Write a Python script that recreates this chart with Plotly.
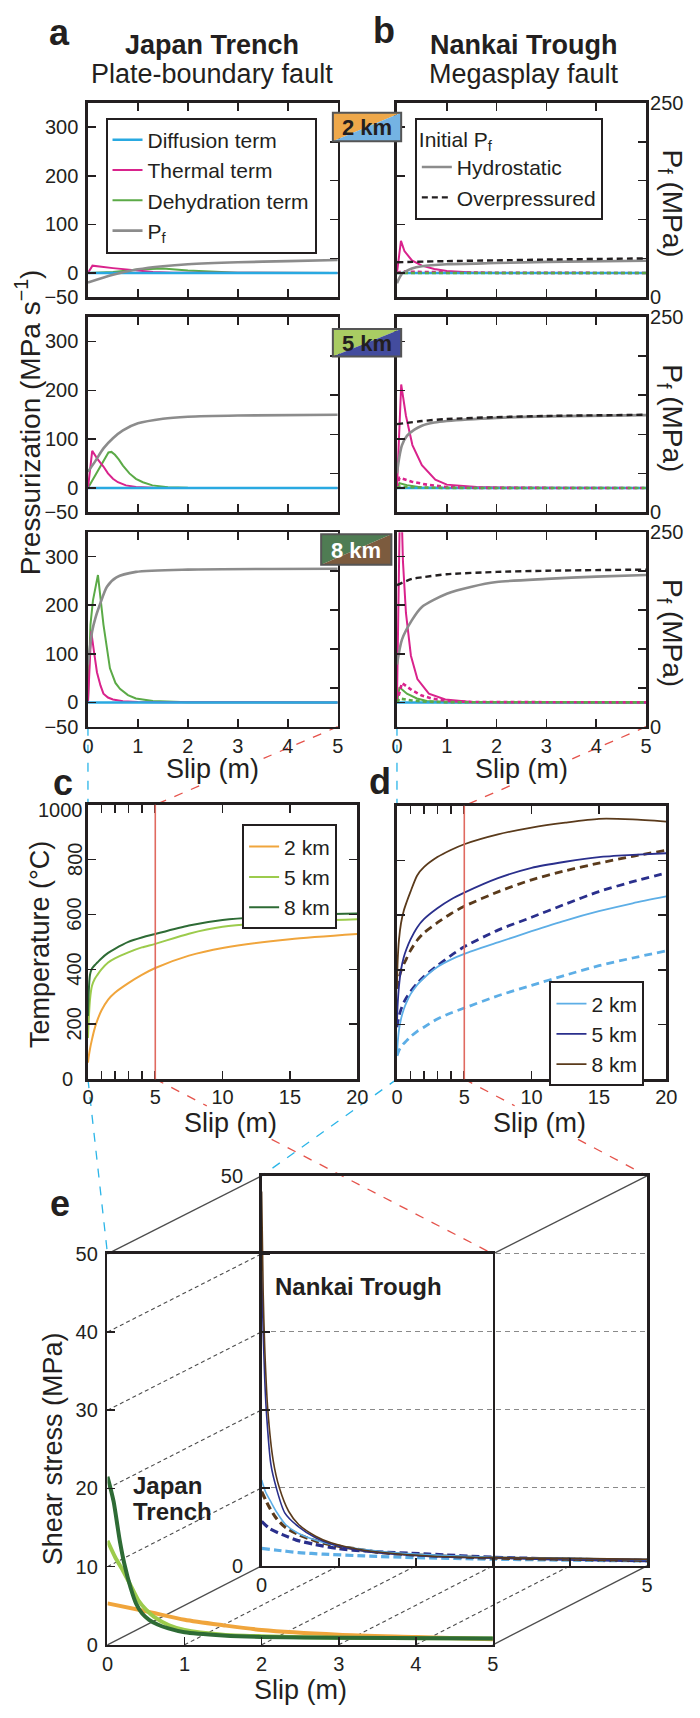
import plotly.graph_objects as go

W, H = 700, 1718
INK = "#231F20"
FONT = "Liberation Sans, Arial, Helvetica, sans-serif"

# ======================= DATA =======================
# ---- Panel a: Japan Trench, pressurization terms (MPa s^-1) vs slip (m); Pf in MPa (right axis)
ZERO_s = [0, 5]
ZERO_v = [0, 0]

JT2_thermal_s = [0, 0.09, 0.5, 1.0, 1.3, 1.7, 5]
JT2_thermal = [0, 15, 10, 5, 2, 0.5, 0]
JT2_dehyd_s = [0, 0.5, 1.0, 1.5, 2.0, 2.5, 3, 5]
JT2_dehyd = [0, 2, 7, 9, 5, 2, 0.5, 0]
JT2_pf_s = [0, 0.5, 1, 1.5, 2, 3, 4, 5]
JT2_pf = [19, 29, 36, 40, 42.5, 45, 46.5, 48]

JT5_thermal_s = [0, 0.085, 0.2, 0.31, 0.4, 0.5, 0.6, 0.76, 0.96, 1.3, 5]
JT5_thermal = [0, 76, 58, 44, 30, 19, 12, 5.5, 2, 0.5, 0]
JT5_dehyd_s = [0, 0.1, 0.2, 0.31, 0.41, 0.47, 0.54, 0.62, 0.7, 0.83, 0.96, 1.1, 1.29, 1.6, 2, 5]
JT5_dehyd = [0, 18, 36, 53, 73, 74, 68, 58, 46, 30, 19, 12, 5.5, 1.5, 0.5, 0]
JT5_pf_s = [0, 0.15, 0.31, 0.5, 0.7, 1.0, 1.5, 2, 3, 5]
JT5_pf = [52, 66, 82, 95, 105, 114, 120, 122.5, 124, 125]

JT8_thermal_s = [0, 0.065, 0.12, 0.18, 0.25, 0.31, 0.4, 0.5, 0.7, 1, 1.5, 5]
JT8_thermal = [0, 146, 105, 62, 35, 18, 10, 6, 2.5, 1, 0.2, 0]
JT8_dehyd_s = [0, 0.05, 0.1, 0.2, 0.31, 0.44, 0.55, 0.64, 0.8, 0.96, 1.3, 2, 5]
JT8_dehyd = [0, 160, 210, 262, 160, 70, 40, 28, 15, 8, 3, 0.5, 0]
JT8_pf_s = [0, 0.085, 0.15, 0.25, 0.38, 0.57, 0.96, 2, 5]
JT8_pf = [80, 123, 140, 159, 180, 192, 199, 202, 203]

# ---- Panel b: Nankai Trough (solid = hydrostatic initial Pf, dashed = overpressured)
NT2_hydro_s = [0, 0.1, 0.3, 0.5, 1, 2, 3, 5]
NT2_hydro = [18, 30, 37, 40, 42.5, 44, 45.5, 47]
NT2_over_s = [0, 1, 2, 3, 5]
NT2_over = [45, 46.5, 47.5, 48.5, 50]
NT2_thermal_s = [0, 0.08, 0.15, 0.3, 0.5, 0.75, 1.0, 1.5, 2, 5]
NT2_thermal = [0, 66, 45, 26, 15, 8, 4, 1, 0, 0]
NT2_thermal_op_s = [0, 0.1, 0.5, 1, 2, 5]
NT2_thermal_op = [0, 3, 2, 1, 0.3, 0]

NT5_hydro_s = [0, 0.05, 0.1, 0.2, 0.35, 0.5, 0.75, 1, 2, 3, 5]
NT5_hydro = [50, 72, 86, 98, 106, 111, 115, 117, 121, 123, 124.5]
NT5_over_s = [0, 0.5, 1, 2, 3, 5]
NT5_over = [113, 117, 119.5, 122, 123.5, 125]
NT5_thermal_s = [0, 0.085, 0.18, 0.31, 0.5, 0.77, 1.0, 1.6, 2.5, 5]
NT5_thermal = [0, 212, 148, 88, 47, 17, 7, 2, 0.5, 0]
NT5_thermal_op_s = [0, 0.05, 0.3, 0.6, 1.0, 1.5, 5]
NT5_thermal_op = [0, 21, 13, 7, 2, 0.5, 0]
NT5_dehyd_s = [0, 0.05, 0.2, 0.5, 1, 5]
NT5_dehyd = [0, 10, 6, 1, 0, 0]
NT5_dehyd_op_s = [0, 0.05, 0.5, 1, 5]
NT5_dehyd_op = [0, 3, 1, 0.3, 0]

NT8_hydro_s = [0, 0.1, 0.3, 0.5, 1, 1.5, 2, 3, 4, 5]
NT8_hydro = [80, 112, 137, 154, 171, 180, 186, 190, 193, 195]
NT8_over_s = [0, 0.3, 0.5, 1, 2, 3, 5]
NT8_over = [182, 190, 192, 196, 199, 200.5, 202]
NT8_thermal_s = [0, 0.07, 0.12, 0.18, 0.28, 0.41, 0.64, 0.97, 1.5, 2, 5]
NT8_thermal = [0, 480, 290, 184, 96, 48, 18, 6, 1, 0, 0]
NT8_thermal_op_s = [0, 0.1, 0.3, 0.5, 0.7, 1.0, 1.5, 5]
NT8_thermal_op = [0, 40, 25, 14, 8, 3, 0.8, 0]
NT8_dehyd_s = [0, 0.05, 0.2, 0.4, 0.6, 1, 5]
NT8_dehyd = [0, 31, 18, 8, 3, 0.5, 0]
NT8_dehyd_op_s = [0, 0.05, 0.3, 0.6, 1, 5]
NT8_dehyd_op = [0, 8, 4, 1.5, 0.5, 0]

# ---- Panel c: Japan Trench temperature (deg C) vs slip (m)
C_slip = [0, 0.05, 0.15, 0.3, 0.5, 0.7, 1, 1.5, 2, 3, 4, 5, 7.5, 10, 15, 20]
C_2km = [60, 80, 110, 145, 185, 215, 250, 290, 315, 350, 380, 405, 450, 478, 510, 529]
C_5km = [150, 210, 290, 340, 365, 380, 400, 425, 440, 462, 480, 493, 530, 555, 574, 583]
C_8km = [230, 310, 380, 403, 415, 425, 440, 460, 475, 500, 516, 529, 560, 580, 597, 604]

# ---- Panel d: Nankai Trough temperature (solid hydrostatic, dashed overpressured)
D_slip = [0, 0.05, 0.15, 0.3, 0.5, 0.7, 1, 1.5, 2, 3, 4, 5, 7.5, 10, 12.5, 15, 17.5, 20]
D_2km = [90, 130, 180, 220, 255, 280, 310, 345, 370, 410, 437, 458, 500, 541, 580, 614, 643, 668]
D_5km = [200, 270, 340, 400, 445, 475, 510, 555, 585, 625, 657, 682, 735, 773, 795, 812, 820, 826]
D_8km = [340, 430, 510, 570, 615, 645, 685, 745, 775, 812, 838, 859, 895, 920, 938, 952, 950, 942]
D_2km_op = [85, 92, 105, 118, 130, 140, 155, 175, 190, 220, 242, 260, 305, 343, 380, 415, 443, 469]
D_5km_op = [190, 205, 230, 255, 280, 298, 320, 350, 375, 415, 452, 484, 545, 592, 640, 686, 722, 754]
D_8km_op = [330, 345, 370, 395, 420, 440, 470, 508, 535, 572, 605, 632, 685, 729, 762, 790, 815, 837]

# ---- Panel e: shear stress (MPa) vs slip (m)
E_JT2_s = [0, 0.5, 1, 1.5, 2, 3, 4, 5]
E_JT2 = [5.3, 4.3, 3.2, 2.5, 1.9, 1.3, 1.0, 0.7]
E_JT5_s = [0, 0.1, 0.2, 0.3, 0.4, 0.5, 0.6, 0.8, 1.0, 1.5, 2, 3, 5]
E_JT5 = [13.3, 11.2, 9.5, 7.6, 5.7, 4.5, 3.6, 2.5, 1.9, 1.3, 1.1, 0.9, 0.8]
E_JT8_s = [0, 0.04, 0.08, 0.16, 0.22, 0.3, 0.37, 0.45, 0.54, 0.65, 0.79, 1.0, 1.5, 2, 3, 5]
E_JT8 = [21.5, 20, 18.3, 13.3, 10.3, 7.3, 5.3, 4.0, 3.2, 2.6, 2.1, 1.6, 1.2, 1.0, 0.9, 0.8]

E_NT8_s = [0, 0.02, 0.04, 0.08, 0.15, 0.23, 0.35, 0.48, 0.7, 0.9, 1.33, 2.17, 3, 4, 5]
E_NT8 = [48, 35, 28, 20, 13.5, 10, 7, 5.3, 3.8, 2.95, 2.0, 1.27, 1.05, 0.95, 0.85]
E_NT5_s = [0, 0.02, 0.04, 0.06, 0.12, 0.19, 0.3, 0.48, 0.7, 0.9, 1.33, 2.17, 3, 4, 5]
E_NT5 = [38, 30, 24, 20, 13, 10, 6.8, 5.0, 3.6, 2.8, 1.9, 1.2, 1.0, 0.9, 0.8]
E_NT2_s = [0, 0.05, 0.12, 0.2, 0.31, 0.45, 0.61, 0.8, 1.03, 1.5, 2, 3, 4, 5]
E_NT2 = [11, 9.5, 8.2, 6.8, 5.3, 4.3, 3.6, 3.0, 2.5, 1.9, 1.5, 1.1, 0.95, 0.8]
E_NT8op_s = [0, 0.1, 0.19, 0.3, 0.48, 0.7, 0.9, 1.2, 1.54, 2, 3, 4, 5]
E_NT8op = [9.5, 7.5, 6.1, 5.0, 4.0, 3.2, 2.7, 2.2, 1.7, 1.4, 1.0, 0.85, 0.7]
E_NT5op_s = [0, 0.1, 0.27, 0.45, 0.69, 1.0, 1.33, 2.17, 3, 4, 5]
E_NT5op = [5.7, 4.8, 4.0, 3.3, 2.75, 2.2, 1.9, 1.5, 1.1, 0.85, 0.65]
E_NT2op_s = [0, 0.2, 0.48, 0.8, 1.33, 2, 3, 4, 5]
E_NT2op = [2.24, 2.0, 1.7, 1.5, 1.27, 1.05, 0.85, 0.72, 0.63]

# ticks
PR_TICKS = [-50, 0, 100, 200, 300]
PR_TICKTEXT = ["\u221250", "0", "100", "200", "300"]
PF_TICKS = [0, 250]
PF_MINOR = [50, 100, 150, 200]
SLIP_TICKS = [0, 1, 2, 3, 4, 5]
SLIP_END_TICKS = [0, 5]
SLIP_MINOR = [1, 2, 3, 4]
T_SLIP_TICKS = [0, 5, 10, 15, 20]
T_SLIP_MINOR = [1, 2, 3, 4]
T_TICKS = [0, 200, 400, 600, 800, 1000]
TAU_TICKS = [0, 10, 20, 30, 40, 50]
TAU_END_TICKS = [0, 50]
TAU_MINOR = [10, 20, 30, 40]
DEPTHS = ["2 km", "5 km", "8 km"]

# ======================= STYLE / LAYOUT GEOMETRY =======================
C_DIFF, C_THERM, C_DEHY, C_PF = "#29A9E1", "#D9238C", "#5BAA47", "#8C8C8C"
JT_COL = ["#F0A53C", "#9CCB4C", "#2E6B35"]
NT_COL = ["#5DAEE6", "#2A2F8C", "#5A3A1B"]
BOX_JT = ["#EEA84A", "#A9CC63", "#4F7C53"]
BOX_NT = ["#74B3E3", "#434C9E", "#7C5B3E"]
CYAN_L, RED_L = "#2BB5E8", "#E5534B"

ROW_Y = [(93, 290), (310, 508), (528, 725)]
COL_X = [(84, 340), (400.7, 656)]
C_BOX = (84, 360, 804, 1082)
D_BOX = (400.7, 676.7, 805, 1082)
F_BOX = (104, 499, 1259, 1655)   # front face (Japan Trench)
B_BOX = (262, 657, 1180, 1575)   # back face (Nankai Trough)


def px(x):
    return x / W


def py(y):
    return 1 - y / H


def xdom(a, b):
    return [a / W, b / W]


def ydom(a, b):
    return [1 - b / H, 1 - a / H]


def xid(k):
    return "x" if k == 1 else f"x{k}"


def yid(n):
    return "y" if n == 1 else f"y{n}"


def xkey(k):
    return "xaxis" if k == 1 else f"xaxis{k}"


def ykey(n):
    return "yaxis" if n == 1 else f"yaxis{n}"


fig = go.Figure()


def line(xs, ys, xa, ya, color, width, dash="solid", name=None, legend=None, rank=None, smooth=False):
    kw = dict(x=xs, y=ys, mode="lines", xaxis=xa, yaxis=ya,
              line=dict(color=color, width=width, dash=dash),
              hoverinfo="skip", showlegend=legend is not None, name=name or "")
    if smooth:
        kw["line"]["shape"] = "spline"
        kw["line"]["smoothing"] = 0.7
    if legend is not None:
        kw["legend"] = legend
        kw["legendrank"] = rank
    fig.add_trace(go.Scatter(**kw))


JT_ROWS = [
    (JT2_thermal_s, JT2_thermal, JT2_dehyd_s, JT2_dehyd, JT2_pf_s, JT2_pf),
    (JT5_thermal_s, JT5_thermal, JT5_dehyd_s, JT5_dehyd, JT5_pf_s, JT5_pf),
    (JT8_thermal_s, JT8_thermal, JT8_dehyd_s, JT8_dehyd, JT8_pf_s, JT8_pf),
]
NT_ROWS = [
    dict(h=(NT2_hydro_s, NT2_hydro), o=(NT2_over_s, NT2_over), th=(NT2_thermal_s, NT2_thermal),
         tho=(NT2_thermal_op_s, NT2_thermal_op), de=(ZERO_s, ZERO_v), deo=(ZERO_s, ZERO_v)),
    dict(h=(NT5_hydro_s, NT5_hydro), o=(NT5_over_s, NT5_over), th=(NT5_thermal_s, NT5_thermal),
         tho=(NT5_thermal_op_s, NT5_thermal_op), de=(NT5_dehyd_s, NT5_dehyd), deo=(NT5_dehyd_op_s, NT5_dehyd_op)),
    dict(h=(NT8_hydro_s, NT8_hydro), o=(NT8_over_s, NT8_over), th=(NT8_thermal_s, NT8_thermal),
         tho=(NT8_thermal_op_s, NT8_thermal_op), de=(NT8_dehyd_s, NT8_dehyd), deo=(NT8_dehyd_op_s, NT8_dehyd_op)),
]

for r in range(3):
    # Japan Trench column
    k = 2 * r + 1
    xa, yl, yr = xid(k), yid(2 * k - 1), yid(2 * k)
    ts, tv, ds, dv, ps, pv = JT_ROWS[r]
    lg = "legend" if r == 0 else None
    line(ds, dv, xa, yl, C_DEHY, 2, name="Dehydration term", legend=lg, rank=3)
    line(ts, tv, xa, yl, C_THERM, 2, name="Thermal term", legend=lg, rank=2)
    line(ZERO_s, ZERO_v, xa, yl, C_DIFF, 2.5, name="Diffusion term", legend=lg, rank=1)
    line(ps, pv, xa, yr, C_PF, 2.6, name="P<sub>f</sub>", legend=lg, rank=4, smooth=True)
    # Nankai Trough column
    k = 2 * r + 2
    xa, yl, yr = xid(k), yid(2 * k - 1), yid(2 * k)
    d = NT_ROWS[r]
    lg2 = "legend2" if r == 0 else None
    line(*d["de"], xa, yl, C_DEHY, 2)
    line(*d["th"], xa, yl, C_THERM, 2)
    line(ZERO_s, ZERO_v, xa, yl, C_DIFF, 2.5)
    line(*d["tho"], xa, yl, C_THERM, 2.6, dash="4px,3px")
    line(*d["deo"], xa, yl, C_DEHY, 2.6, dash="4px,3px")
    line(*d["h"], xa, yr, C_PF, 2.6, name="Hydrostatic", legend=lg2, rank=1, smooth=True)
    line(*d["o"], xa, yr, INK, 2.4, dash="6px,4px", name="Overpressured", legend=lg2, rank=2, smooth=True)

# Panel c
for i, vals in enumerate([C_2km, C_5km, C_8km]):
    line(C_slip, vals, "x7", "y13", JT_COL[i], 2, name=DEPTHS[i], legend="legend3", rank=i + 1, smooth=True)
# Panel d
for i, vals in enumerate([D_2km_op, D_5km_op, D_8km_op]):
    line(D_slip, vals, "x8", "y14", NT_COL[i], 2.8, dash="8px,5px", smooth=True)
for i, vals in enumerate([D_2km, D_5km, D_8km]):
    line(D_slip, vals, "x8", "y14", NT_COL[i], 1.8, name=DEPTHS[i], legend="legend4", rank=i + 1, smooth=True)

# Panel e: back face (Nankai)
line(E_NT2op_s, E_NT2op, "x9", "y15", NT_COL[0], 3.2, dash="8px,4px", smooth=True)
line(E_NT5op_s, E_NT5op, "x9", "y15", NT_COL[1], 3.2, dash="8px,4px", smooth=True)
line(E_NT8op_s, E_NT8op, "x9", "y15", NT_COL[2], 3.2, dash="8px,4px", smooth=True)
line(E_NT2_s, E_NT2, "x9", "y15", NT_COL[0], 1.6, smooth=True)
line(E_NT5_s, E_NT5, "x9", "y15", NT_COL[1], 1.6, smooth=True)
line(E_NT8_s, E_NT8, "x9", "y15", NT_COL[2], 1.6, smooth=True)
# front face (Japan)
line(E_JT2_s, E_JT2, "x10", "y16", JT_COL[0], 4, smooth=True)
line(E_JT5_s, E_JT5, "x10", "y16", JT_COL[1], 4, smooth=True)
line(E_JT8_s, E_JT8, "x10", "y16", JT_COL[2], 4, smooth=True)

# ======================= AXES =======================
TF = dict(family=FONT, size=20, color=INK)
BASE = dict(showline=True, linecolor=INK, linewidth=2.6, ticks="inside", ticklen=8,
            tickwidth=1.6, tickcolor=INK, zeroline=False, showgrid=False, tickfont=TF,
            fixedrange=True)


def minor(vals, **extra):
    m = dict(tickmode="array", tickvals=vals, ticks="inside", ticklen=8, tickwidth=1.6, tickcolor=INK)
    m.update(extra)
    return m


lay = {}
for r in range(3):
    for c in range(2):
        k = 2 * r + c + 1
        x0, x1 = COL_X[c]
        y0, y1 = ROW_Y[r]
        lay[xkey(k)] = dict(BASE, domain=xdom(x0, x1), range=[0, 5], anchor=yid(2 * k - 1),
                            tickvals=SLIP_TICKS, mirror="ticks", showticklabels=(r == 2))
        lay[ykey(2 * k - 1)] = dict(BASE, domain=ydom(y0, y1), range=[-50, 350], anchor=xid(k),
                                    tickvals=PR_TICKS, ticktext=PR_TICKTEXT, mirror=True,
                                    showticklabels=(c == 0), ticklabelstandoff=3)
        lay[ykey(2 * k)] = dict(BASE, range=[0, 250], anchor=xid(k), overlaying=yid(2 * k - 1),
                                side="right", showline=False, tickvals=PF_TICKS,
                                showticklabels=(c == 1), ticklabelstandoff=3,
                                minor=minor(PF_MINOR))

lay["xaxis7"] = dict(BASE, domain=xdom(C_BOX[0], C_BOX[1]), range=[0, 20], anchor="y13",
                     tickvals=T_SLIP_TICKS, mirror="ticks", minor=minor(T_SLIP_MINOR),
                     ticklabelstandoff=-2)
lay["yaxis13"] = dict(BASE, domain=ydom(C_BOX[2], C_BOX[3]), range=[0, 1000], anchor="x7",
                      tickvals=T_TICKS, mirror="ticks", showticklabels=False)
lay["xaxis8"] = dict(BASE, domain=xdom(D_BOX[0], D_BOX[1]), range=[0, 20], anchor="y14",
                     tickvals=T_SLIP_TICKS, mirror="ticks", minor=minor(T_SLIP_MINOR),
                     ticklabelstandoff=-2)
lay["yaxis14"] = dict(BASE, domain=ydom(D_BOX[2], D_BOX[3]), range=[0, 1000], anchor="x8",
                      tickvals=T_TICKS, mirror="ticks", showticklabels=False)
lay["xaxis9"] = dict(BASE, domain=xdom(B_BOX[0], B_BOX[1]), range=[0, 5], anchor="y15",
                     tickvals=SLIP_END_TICKS, mirror=True, minor=minor(SLIP_MINOR))
lay["yaxis15"] = dict(BASE, domain=ydom(B_BOX[2], B_BOX[3]), range=[0, 50], anchor="x9",
                      tickvals=TAU_END_TICKS, mirror=True, ticklabelstandoff=12,
                      minor=minor(TAU_MINOR, showgrid=True, gridcolor="#8A8A8A",
                                  gridwidth=1.2, griddash="5px,4px"))
lay["xaxis10"] = dict(BASE, domain=xdom(F_BOX[0], F_BOX[1]), range=[0, 5], anchor="y16",
                      tickvals=SLIP_TICKS, mirror=True)
lay["yaxis16"] = dict(BASE, domain=ydom(F_BOX[2], F_BOX[3]), range=[0, 50], anchor="x10",
                      tickvals=TAU_TICKS, mirror=True, ticklabelstandoff=3)

# ======================= ANNOTATIONS =======================
ann = []


def text(t, x, y, size, bold=False, angle=0, color=INK, xanchor="center",
         yanchor="middle", xref="paper", yref="paper", yv=None, yshift=0):
    ann.append(dict(text=f"<b>{t}</b>" if bold else t, x=px(x), y=py(y) if yv is None else yv,
                    xref=xref, yref=yref, showarrow=False, textangle=angle,
                    font=dict(family=FONT, size=size, color=color), xanchor=xanchor,
                    yanchor=yanchor, yshift=yshift))


text("a", 55, 22, 36, bold=True)
text("b", 387, 20, 36, bold=True)
text("Japan Trench", 211, 34, 27, bold=True)
text("Plate-boundary fault", 211, 64, 27)
text("Nankai Trough", 531, 34, 27, bold=True)
text("Megasplay fault", 531, 64, 27)
text("Pressurization (MPa s<sup>\u22121</sup>)", 22, 416, 28, angle=-90)
for (y0, y1) in ROW_Y:
    text("P<sub>f</sub> (MPa)", 681, (y0 + y1) / 2 + 4, 28, angle=90)

# "Slip (m)" labels - connectors break around them
SLIP_LABELS = [((COL_X[0][0] + COL_X[0][1]) / 2, 768), ((COL_X[1][0] + COL_X[1][1]) / 2, 768),
               ((C_BOX[0] + C_BOX[1]) / 2 + 8, 1126), ((D_BOX[0] + D_BOX[1]) / 2 + 8, 1126),
               ((F_BOX[0] + F_BOX[1]) / 2, 1701)]
for (lx, ly) in SLIP_LABELS:
    text("Slip (m)", lx, ly, 27)
LABEL_HALF = (52, 17)

text("c", 58, 782, 36, bold=True)
text("d", 383, 780, 36, bold=True)
text("e", 55, 1208, 36, bold=True)
text("Temperature (\u00b0C)", 35, 946, 27, angle=-90)
text("Shear stress (MPa)", 49, 1456, 27, angle=-90)
text("Nankai Trough", 274, 1292, 24, bold=True, xanchor="left")
text("Japan", 128, 1494, 24, bold=True, xanchor="left")
text("Trench", 128, 1520, 24, bold=True, xanchor="left")
# temperature tick labels of panel c (middle ones rotated, as in the original)
for v in T_TICKS:
    if v == 0:
        text("0", 71, 0, 20, xanchor="right", yref="y13", yv=v)
    elif v == 1000:
        text("1000", 81, 0, 20, xanchor="right", yref="y13", yv=v, yshift=-5)
    else:
        text(str(v), 70, 0, 20, angle=-90, yref="y13", yv=v)

# depth label boxes (split colour)
BOXES = [(335, 405, 103, 132), (335, 405, 322, 350), (323, 395, 530, 561)]
shapes = []
for i, (x0, x1, y0, y1) in enumerate(BOXES):
    shapes.append(dict(type="path", xref="paper", yref="paper", layer="above",
                       path=f"M {px(x0)},{py(y0)} L {px(x1)},{py(y0)} L {px(x0)},{py(y1)} Z",
                       fillcolor=BOX_JT[i], line=dict(width=0)))
    shapes.append(dict(type="path", xref="paper", yref="paper", layer="above",
                       path=f"M {px(x1)},{py(y0)} L {px(x1)},{py(y1)} L {px(x0)},{py(y1)} Z",
                       fillcolor=BOX_NT[i], line=dict(width=0)))
    shapes.append(dict(type="rect", xref="paper", yref="paper", layer="above",
                       x0=px(x0), x1=px(x1), y0=py(y0), y1=py(y1),
                       line=dict(color="#555555", width=2)))
    text(DEPTHS[i], (x0 + x1) / 2, (y0 + y1) / 2 + 1, 22, bold=True,
         color="white" if i == 2 else INK)


def seg(x0, y0, x1, y1, color, width=1.3, dash="dash", layer="below"):
    shapes.append(dict(type="line", xref="paper", yref="paper", layer=layer,
                       x0=px(x0), y0=py(y0), x1=px(x1), y1=py(y1),
                       line=dict(color=color, width=width, dash=dash)))


def clip_out(p0, p1, rect):
    """Parts of segment p0-p1 lying outside rect (xmin, xmax, ymin, ymax)."""
    (xa, ya), (xb, yb) = p0, p1
    dx, dy = xb - xa, yb - ya
    t0, t1 = 0.0, 1.0
    for p, q in ((-dx, xa - rect[0]), (dx, rect[1] - xa), (-dy, ya - rect[2]), (dy, rect[3] - ya)):
        if p == 0:
            if q < 0:
                return [(p0, p1)]
            continue
        t = q / p
        if p < 0:
            t0 = max(t0, t)
        else:
            t1 = min(t1, t)
    if t0 >= t1:
        return [(p0, p1)]
    out = []
    if t0 > 0:
        out.append((p0, (xa + t0 * dx, ya + t0 * dy)))
    if t1 < 1:
        out.append(((xa + t1 * dx, ya + t1 * dy), p1))
    return out


def connector(x0, y0, x1, y1, color):
    pieces = [((x0, y0), (x1, y1))]
    for (lx, ly) in SLIP_LABELS:
        rect = (lx - LABEL_HALF[0], lx + LABEL_HALF[0], ly - LABEL_HALF[1], ly + LABEL_HALF[1])
        nxt = []
        for a, b in pieces:
            nxt.extend(clip_out(a, b, rect))
        pieces = nxt
    for a, b in pieces:
        seg(a[0], a[1], b[0], b[1], color)


def xpos(box, v, vmax):
    return box[0] + (box[1] - box[0]) * v / vmax


# red marker of 5 m slip in c and d
for xa, ya in [("x7", "y13"), ("x8", "y14")]:
    shapes.append(dict(type="line", xref=xa, yref=f"{ya} domain", x0=5, x1=5, y0=0, y1=1,
                       line=dict(color="#E06A60", width=1.6), layer="above"))

# connectors between panels
cx5 = xpos(C_BOX, 5, 20)
dx5 = xpos(D_BOX, 5, 20)
connector(COL_X[0][0], ROW_Y[2][1], C_BOX[0], C_BOX[2], CYAN_L)
connector(COL_X[0][1], ROW_Y[2][1], cx5, C_BOX[2], RED_L)
connector(COL_X[1][0], ROW_Y[2][1], D_BOX[0], D_BOX[2], CYAN_L)
connector(COL_X[1][1], ROW_Y[2][1], dx5, D_BOX[2], RED_L)
connector(C_BOX[0], C_BOX[3], F_BOX[0], F_BOX[2], CYAN_L)
connector(cx5, C_BOX[3], F_BOX[1], F_BOX[2], RED_L)
connector(D_BOX[0], D_BOX[3], B_BOX[0], B_BOX[2], CYAN_L)
connector(dx5, D_BOX[3], B_BOX[1], B_BOX[2], RED_L)

# 3-D box edges of panel e
G = "#4D4D4D"
for (fx, fy, bx, by) in [(F_BOX[0], F_BOX[2], B_BOX[0], B_BOX[2]), (F_BOX[1], F_BOX[2], B_BOX[1], B_BOX[2]),
                         (F_BOX[0], F_BOX[3], B_BOX[0], B_BOX[3]), (F_BOX[1], F_BOX[3], B_BOX[1], B_BOX[3])]:
    seg(fx, fy, bx, by, G, width=1.3, dash="solid")
for v in TAU_MINOR:
    fy = F_BOX[3] - (F_BOX[3] - F_BOX[2]) * v / 50
    by = B_BOX[3] - (B_BOX[3] - B_BOX[2]) * v / 50
    seg(F_BOX[0], fy, B_BOX[0], by, G, width=1.1, dash="4px,3px")
for v in SLIP_MINOR:
    fx = xpos(F_BOX, v, 5)
    bx = xpos(B_BOX, v, 5)
    seg(fx, F_BOX[3], bx, B_BOX[3], G, width=1.1, dash="4px,3px")

LEG = dict(bordercolor=INK, borderwidth=2, bgcolor="white", xanchor="left", yanchor="top",
           font=dict(family=FONT, size=21, color=INK), itemwidth=30, tracegroupgap=0,
           traceorder="normal")

fig.update_layout(
    width=W, height=H, autosize=False,
    margin=dict(l=0, r=0, t=0, b=0, pad=0),
    paper_bgcolor="white", plot_bgcolor="rgba(0,0,0,0)",
    font=dict(family=FONT, color=INK, size=20),
    annotations=ann, shapes=shapes,
    legend=dict(LEG, x=px(102), y=py(108)),
    legend2=dict(LEG, x=px(419), y=py(108),
                 title=dict(text="Initial P<sub>f</sub>", font=dict(family=FONT, size=21, color=INK))),
    legend3=dict(LEG, x=px(242), y=py(824)),
    legend4=dict(LEG, x=px(557), y=py(983)),
    **lay,
)

fig.write_html("out.html", config={"displayModeBar": False, "staticPlot": True},
               post_script="document.body.style.margin='0';")
